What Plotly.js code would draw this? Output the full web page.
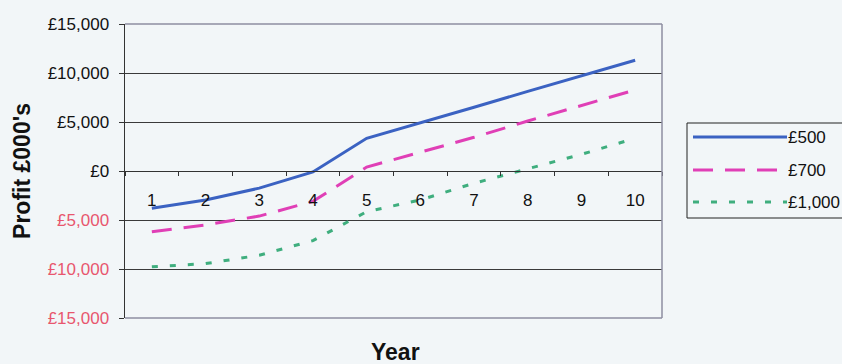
<!DOCTYPE html>
<html>
<head>
<meta charset="utf-8">
<script src="https://cdn.plot.ly/plotly-3.0.1.min.js"></script>
<style>html,body{margin:0;padding:0;background:#f2f6f8;}#chart{width:842px;height:364px;}</style>
</head>
<body>
<div id="chart"></div>
<script>
const years = ['1','2','3','4','5','6','7','8','9','10'];
const seriesNames = ['£500', '£700', '£1,000'];
const profit500 = [-3800, -2950, -1750, -100, 3340, 4900, 6500, 8130, 9740, 11300];
const profit700 = [-6200, -5500, -4600, -3100, 400, 1900, 3440, 5100, 6700, 8270];
const profit1000 = [-9780, -9450, -8600, -7100, -4150, -2950, -1250, 200, 1700, 3340];
const yTickVals = [-15000, -10000, -5000, 0, 5000, 10000, 15000];
const yTickLabels = ['£15,000', '£10,000', '£5,000', '£0', '£5,000', '£10,000', '£15,000'];

const colors = ['#3b62c2', '#e03fb6', '#3fae7e'];
const dashes = ['solid', '20px,12px', '6px,12px'];
const seriesData = [profit500, profit700, profit1000];
const negColor = '#e8566e';
const font = 'Liberation Sans, Arial, sans-serif';

const traces = seriesData.map((vals, i) => ({
  x: years, y: vals, type: 'scatter', mode: 'lines', name: seriesNames[i],
  line: {color: colors[i], width: 3, dash: dashes[i]}, showlegend: false
}));

const ticktext = yTickVals.map((v, i) => v < 0 ? '<span style="color:' + negColor + '">' + yTickLabels[i] + '</span>' : yTickLabels[i]);

// plot area in px: x 125..662, y 24..318
const px = x => (x - 125) / 537;
const py = y => (318 - y) / 294;

const shapes = [
  {type:'line', xref:'paper', yref:'paper', x0:0, x1:1, y0:1, y1:1, line:{color:'#8e8ea2', width:1.5}, layer:'above'},
  {type:'line', xref:'paper', yref:'paper', x0:1, x1:1, y0:0, y1:1, line:{color:'#8e8ea2', width:1.5}, layer:'above'},
  {type:'line', xref:'paper', yref:'paper', x0:0, x1:1, y0:0, y1:0, line:{color:'#8e8ea2', width:1.5}, layer:'above'},
  {type:'rect', xref:'paper', yref:'paper', x0:px(687), x1:px(860), y0:py(218), y1:py(123), line:{color:'#222', width:1}, fillcolor:'rgba(0,0,0,0)'}
];
const annotations = [
  {text:'Year', xref:'paper', yref:'paper', x:px(395), y:py(352), xanchor:'center', yanchor:'middle', showarrow:false,
   font:{family:font, size:23, color:'#111', weight:'bold'}}
];
const legendY = [137, 170, 202];
seriesNames.forEach((n, i) => {
  shapes.push({type:'line', xref:'paper', yref:'paper', x0:px(693), x1:px(787), y0:py(legendY[i]), y1:py(legendY[i]),
    line:{color:colors[i], width:3, dash:dashes[i]}});
  annotations.push({text:n, xref:'paper', yref:'paper', x:px(786), y:py(legendY[i]), xanchor:'left', yanchor:'middle',
    showarrow:false, font:{family:font, size:17, color:'#111'}});
});

const layout = {
  width: 842, height: 364,
  margin: {l:125, r:180, t:24, b:46},
  paper_bgcolor: '#f2f6f8', plot_bgcolor: '#f2f6f8',
  font: {family: font, color: '#111'},
  showlegend: false,
  xaxis: {
    type: 'category', range: [-0.5, 9.5], anchor: 'free', position: 0.5, tickson: 'boundaries',
    ticks: 'outside', ticklen: 4, tickcolor: '#333', showline: true, linecolor: '#333', linewidth: 1,
    showgrid: false, zeroline: false, tickfont: {family: font, size: 17, color: '#111'},
    ticklabelstandoff: 14, fixedrange: true
  },
  yaxis: {
    range: [-15000, 15000], tickvals: yTickVals, ticktext: ticktext,
    ticks: 'outside', ticklen: 5, tickcolor: '#333', showline: true, linecolor: '#333', linewidth: 1.5,
    showgrid: true, gridcolor: '#3a3a3a', gridwidth: 1, zeroline: true, zerolinecolor: '#333', zerolinewidth: 1,
    tickfont: {family: font, size: 17, color: '#111'}, ticklabelstandoff: 6,
    title: {text: "Profit £000's", standoff: 10, font: {family: font, size: 23, color: '#111', weight: 'bold'}},
    automargin: false
  },
  shapes: shapes,
  annotations: annotations
};
Plotly.newPlot('chart', traces, layout, {staticPlot: true});
</script>
</body>
</html>
